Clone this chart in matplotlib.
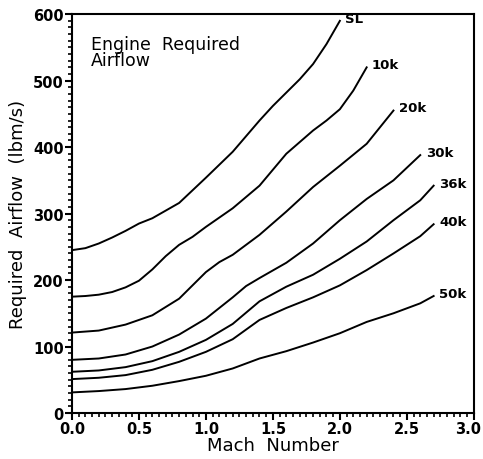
import matplotlib
matplotlib.use('Agg')
import matplotlib.pyplot as plt
import matplotlib.transforms as mtransforms
from matplotlib.ticker import MultipleLocator

# Mach number vs required airflow (lbm/s) for each altitude
labels = ['SL', '10k', '20k', '30k', '36k', '40k', '50k']

mach_sl = [0.0, 0.1, 0.2, 0.3, 0.4, 0.5, 0.6, 0.8, 1.0, 1.2, 1.4, 1.5, 1.6, 1.7, 1.8, 1.9, 2.0]
flow_sl = [245, 248, 255, 264, 274, 285, 293, 316, 354, 393, 440, 462, 482, 502, 525, 555, 590]

mach_10k = [0.0, 0.1, 0.2, 0.3, 0.4, 0.5, 0.6, 0.7, 0.8, 0.9, 1.0, 1.2, 1.4, 1.6, 1.8, 1.9, 2.0, 2.1, 2.2]
flow_10k = [175, 176, 178, 182, 189, 199, 216, 236, 253, 265, 280, 308, 342, 390, 425, 440, 457, 485, 520]

mach_20k = [0.0, 0.2, 0.4, 0.6, 0.8, 0.9, 1.0, 1.1, 1.2, 1.4, 1.6, 1.8, 2.0, 2.2, 2.4]
flow_20k = [121, 124, 133, 147, 172, 192, 212, 227, 238, 268, 303, 340, 372, 405, 455]

mach_30k = [0.0, 0.2, 0.4, 0.6, 0.8, 1.0, 1.2, 1.3, 1.4, 1.6, 1.8, 2.0, 2.2, 2.4, 2.6]
flow_30k = [80, 82, 88, 100, 118, 142, 174, 191, 203, 226, 255, 290, 322, 350, 388]

mach_36k = [0.0, 0.2, 0.4, 0.6, 0.8, 1.0, 1.2, 1.4, 1.6, 1.8, 2.0, 2.2, 2.4, 2.6, 2.7]
flow_36k = [62, 64, 69, 78, 92, 110, 134, 168, 190, 208, 232, 258, 290, 320, 342]

mach_40k = [0.0, 0.2, 0.4, 0.6, 0.8, 1.0, 1.2, 1.4, 1.6, 1.8, 2.0, 2.2, 2.4, 2.6, 2.7]
flow_40k = [51, 53, 57, 65, 77, 92, 111, 140, 158, 174, 192, 215, 240, 266, 284]

mach_50k = [0.0, 0.2, 0.4, 0.6, 0.8, 1.0, 1.2, 1.4, 1.6, 1.8, 2.0, 2.2, 2.4, 2.6, 2.7]
flow_50k = [31, 33, 36, 41, 48, 56, 67, 82, 93, 106, 120, 137, 150, 165, 176]

machs = [mach_sl, mach_10k, mach_20k, mach_30k, mach_36k, mach_40k, mach_50k]
flows = [flow_sl, flow_10k, flow_20k, flow_30k, flow_36k, flow_40k, flow_50k]

fig = plt.figure(figsize=(4.83, 4.60), dpi=100)
ax = fig.add_axes([0.149, 0.10, 0.832, 0.867])

for m, f, lab in zip(machs, flows, labels):
    ax.plot(m, f, color='black', lw=1.4, solid_joinstyle='round')
    ax.text(m[-1] + 0.04, f[-1] + 4, lab, fontsize=9.5, fontweight='bold',
            ha='left', va='center')

ax.text(0.14, 568, 'Engine  Required\nAirflow', fontsize=12.5, ha='left', va='top',
        linespacing=0.8)

ax.set_xlim(0, 3.0)
ax.set_ylim(0, 600)
ax.xaxis.set_minor_locator(MultipleLocator(0.05))
ax.yaxis.set_major_locator(MultipleLocator(100))
ax.yaxis.set_minor_locator(MultipleLocator(10))
ax.set_xticks([0, 0.5, 1.0, 1.5, 2.0, 2.5, 3.0])
ax.set_xticklabels(['0.0', '0.5', '1.0', '1.5', '2.0', '2.5', '3.0'])
ax.tick_params(which='major', direction='out', length=5, width=1.5, labelsize=10.5, pad=1)
ax.tick_params(which='minor', direction='out', length=3, width=1.2)
for lbl in ax.get_xticklabels() + ax.get_yticklabels():
    lbl.set_fontweight('bold')
# keep the last x label inside the figure
last = ax.get_xticklabels()[-1]
last.set_transform(last.get_transform() +
                   mtransforms.ScaledTranslation(-6 / 100, 0, fig.dpi_scale_trans))
for s in ax.spines.values():
    s.set_linewidth(1.5)

ax.set_xlabel('Mach  Number', fontsize=13, labelpad=0)
ax.set_ylabel('Required  Airflow  (lbm/s)', fontsize=13, labelpad=4)

fig.savefig('out.png', dpi=100)
